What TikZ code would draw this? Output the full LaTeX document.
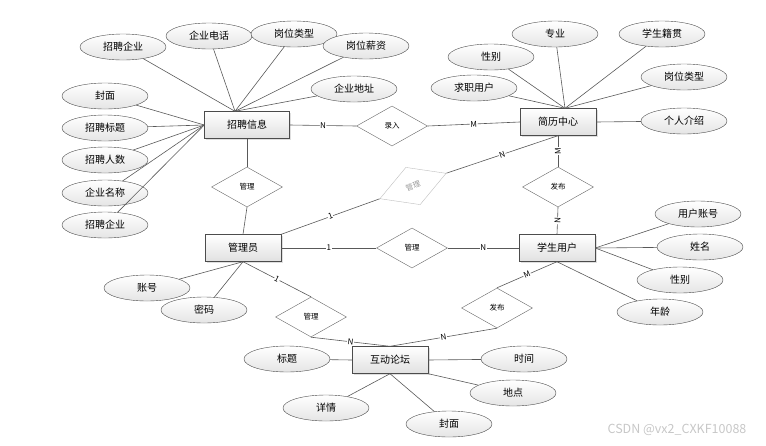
\documentclass[tikz,border=0pt]{standalone}
\usepackage{fontspec}
\setmainfont{Noto Sans CJK SC}
\usepackage{tikz}
\usetikzlibrary{shapes.geometric,shadows}

\begin{document}
\begin{tikzpicture}[x=1pt,y=-1pt,
  entity/.style={rectangle,draw=black!70,top color=white,bottom color=black!12,
    minimum width=76pt,minimum height=27pt,inner sep=0pt,
    drop shadow={opacity=0.25,shadow xshift=1.5pt,shadow yshift=-1.5pt},
    font=\fontsize{10}{12}\selectfont},
  attr/.style={ellipse,draw=black!70,top color=white,bottom color=black!10,
    minimum width=86pt,minimum height=26pt,inner sep=0pt,
    font=\fontsize{10}{12}\selectfont},
  rel/.style={diamond,draw=black!60,fill=white,minimum width=71pt,
    minimum height=40pt,inner sep=0pt,font=\fontsize{7.5}{9}\selectfont},
  card/.style={fill=white,inner sep=0.6pt,sloped,font=\fontsize{8}{9}\selectfont},
  link/.style={draw=black!65,line width=0.6pt}]

\useasboundingbox (0,0) rectangle (766,445);

% entities
\node [entity,minimum width=85pt] (zp) at (247,125) {招聘信息};
\node [entity] (jl) at (558,122) {简历中心};
\node [entity] (gly) at (243,248) {管理员};
\node [entity] (xs) at (557,248) {学生用户};
\node [entity] (lt) at (390,360) {互动论坛};

% relations
\node [rel] (lr) at (392,126) {录入};
\node [rel] (gl1) at (247,187) {管理};
\node [rel,draw=black!25,text=black!40,rotate=21] (gl2) at (413,186) {管理};
\node [rel] (gl3) at (412,248) {管理};
\node [rel] (gl4) at (311,317) {管理};
\node [rel] (fb1) at (558,187) {发布};
\node [rel] (fb2) at (497,308) {发布};

% attributes of 招聘信息
\node [attr] (a1) at (123,47) {招聘企业};
\node [attr] (a2) at (209,36) {企业电话};
\node [attr] (a3) at (294,34) {岗位类型};
\node [attr] (a4) at (366,46) {岗位薪资};
\node [attr] (a5) at (354,89) {企业地址};
\node [attr] (b1) at (105,96) {封面};
\node [attr] (b2) at (105,128) {招聘标题};
\node [attr] (b3) at (105,160) {招聘人数};
\node [attr] (b4) at (105,193) {企业名称};
\node [attr] (b5) at (105,225) {招聘企业};

% attributes of 简历中心
\node [attr] (c1) at (474,88) {求职用户};
\node [attr] (c2) at (491,57) {性别};
\node [attr] (c3) at (555,34) {专业};
\node [attr] (c4) at (662,34) {学生籍贯};
\node [attr] (c5) at (684,77) {岗位类型};
\node [attr] (c6) at (684,121) {个人介绍};

% attributes of 学生用户
\node [attr] (d1) at (698,214) {用户账号};
\node [attr] (d2) at (700,247) {姓名};
\node [attr] (d3) at (680,280) {性别};
\node [attr] (d4) at (660,312) {年龄};

% attributes of 管理员
\node [attr] (e1) at (147,288) {账号};
\node [attr] (e2) at (204,310) {密码};

% attributes of 互动论坛
\node [attr] (f1) at (287,359) {标题};
\node [attr] (f2) at (326,408) {详情};
\node [attr] (f3) at (449,424) {封面};
\node [attr] (f4) at (513,393) {地点};
\node [attr] (f5) at (524,359) {时间};

\node [text=black!22,font=\fontsize{12.5}{14}\selectfont] (wm) at (677,430) {CSDN @vx2\_CXKF10088};

\coordinate (zpn) at ([xshift=-12pt]zp.north);
\coordinate (jln) at ([xshift=7pt]jl.north);

% attribute links
\foreach \a in {a1,a2,a3,a4,a5}
  \draw [link] (\a) -- (zpn);
\foreach \a in {b1,b2,b3,b4,b5}
  \draw [link] (\a) -- (zp.west);
\foreach \a in {c1,c2,c3,c4,c5}
  \draw [link] (\a) -- (jln);
\draw [link] (c6) -- (jl.east);
\foreach \a in {d1,d2,d3}
  \draw [link] (\a) -- (xs.east);
\draw [link] (d4) -- (xs.south);
\foreach \a in {e1,e2}
  \draw [link] (\a) -- (gly.south);
\draw [link] (f1) -- (lt.west);
\draw [link] (f2) -- (lt.south);
\draw [link] (f3) -- (lt.south);
\draw [link] (f4) -- (lt.south east);
\draw [link] (f5) -- (lt.east);

% relation links
\draw [link] (zp.east) -- node[card] {N} (lr.west);
\draw [link] (lr.east) -- node[card] {M} (jl.west);
\draw [link] (zp.south) -- (gl1.north);
\draw [link] (gl1.south) -- (gly.north);
\draw [link] (gly.north east) -- node[card] {1} (gl2.west);
\draw [link] (gl2.east) -- node[card] {N} (jl.south);
\draw [link] (fb1.north) -- node[card] {M} (jl.south);
\draw [link] (fb1.south) -- node[card] {N} (xs.north);
\draw [link] (gly.east) -- node[card] {1} (gl3.west);
\draw [link] (gl3.east) -- node[card] {N} (xs.west);
\draw [link] (gly.south) -- node[card] {1} (gl4.north);
\draw [link] (gl4.south) -- node[card] {N} (lt.north);
\draw [link] (xs.south) -- node[card] {M} (fb2.north);
\draw [link] (fb2.south) -- node[card] {N} (lt.north);

\end{tikzpicture}
\end{document}
